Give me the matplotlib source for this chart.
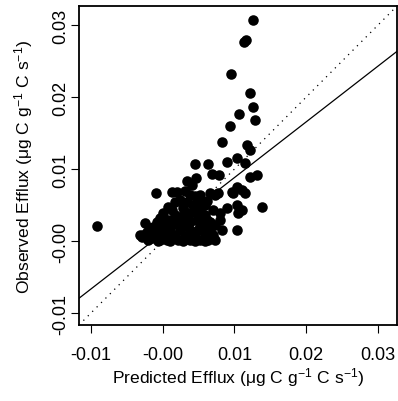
import numpy as np
import matplotlib
matplotlib.use("Agg")
import matplotlib.pyplot as plt

plt.rcParams['font.family'] = ['Liberation Sans', 'DejaVu Sans']
plt.rcParams['mathtext.fontset'] = 'custom'
plt.rcParams['mathtext.rm'] = 'Liberation Sans'
plt.rcParams['mathtext.default'] = 'regular'
plt.rcParams['axes.unicode_minus'] = False

# predicted vs observed efflux
predicted = [
    0.01259, 0.01134, 0.01161, 0.00953, 0.01217, 0.01259, 0.01064, 0.01287,
    0.00939, 0.00828, 0.01175, 0.01217, 0.00452, 0.00633, 0.00897, 0.01036,
    0.01147, 0.00688, 0.00786, 0.00341, 0.00466, 0.01314, 0.01217, 0.00202,
    0.00313, -0.00090, 0.00132, 0.01036, 0.00967, 0.00772, 0.00661, 0.01106,
    0.01147, 0.00174, 0.00341, 0.00494, 0.00619, 0.00897, 0.01036, 0.01106,
    0.01384, 0.00007, 0.00243, 0.00382, 0.00522, 0.00800, 0.01050, -0.00243,
    -0.00076, 0.00076, 0.00202, 0.00341, 0.00480, 0.00619, 0.00800, -0.00911,
    0.00828, 0.01036, -0.00285, -0.00146, 0.00063, 0.00216, 0.00382, 0.00522,
    0.00633, 0.00661, -0.00035, 0.00104, 0.00243, 0.00382, 0.00494, -0.00216,
    -0.00132, -0.00271, 0.00410, 0.00452, 0.00563, 0.00313, 0.00174, 0.00452,
    0.00313, 0.00035, 0.00730, 0.00980, -0.00313, 0.00522, 0.00591, 0.00285,
    0.00424, 0.00132, -0.00035, -0.00174, 0.00702, 0.00730, -0.00063, 0.00104,
    0.00452, -0.00174, -0.00063, 0.00035, 0.00132, 0.00243, 0.00382, 0.00522,
    0.00661, 0.00702, 0.00591, 0.00452, 0.00313, 0.00174, 0.00076, 0.00243,
    0.00382, 0.00522, 0.00591, 0.00730, -0.00035, -0.00202, 0.00285, 0.00591,
]
observed = [
    0.03069, 0.02764, 0.02792, 0.02319, 0.02056, 0.01861, 0.01764, 0.01681,
    0.01597, 0.01375, 0.01333, 0.01264, 0.01069, 0.01069, 0.01097, 0.01153,
    0.01083, 0.00931, 0.00917, 0.00833, 0.00875, 0.00917, 0.00889, 0.00681,
    0.00694, 0.00667, 0.00681, 0.00750, 0.00681, 0.00667, 0.00667, 0.00708,
    0.00667, 0.00542, 0.00542, 0.00542, 0.00556, 0.00458, 0.00500, 0.00431,
    0.00472, 0.00389, 0.00333, 0.00389, 0.00431, 0.00389, 0.00389, 0.00250,
    0.00264, 0.00292, 0.00264, 0.00292, 0.00292, 0.00292, 0.00292, 0.00208,
    0.00153, 0.00153, 0.00056, 0.00042, 0.00014, 0.00014, 0.00014, 0.00014,
    0.00014, 0.00153, 0.00153, 0.00125, 0.00153, 0.00153, 0.00153, 0.00125,
    0.00194, 0.00083, 0.00778, 0.00625, 0.00208, 0.00208, 0.00083, 0.00083,
    0.00069, 0.00222, 0.00639, 0.00667, 0.00083, 0.00222, 0.00361, 0.00458,
    0.00500, 0.00431, 0.00319, 0.00111, 0.00083, 0.00222, 0.00000, 0.00000,
    0.00000, 0.00181, 0.00083, 0.00125, 0.00222, 0.00236, 0.00264, 0.00319,
    0.00264, 0.00431, 0.00500, 0.00403, 0.00403, 0.00361, 0.00472, 0.00569,
    0.00639, 0.00639, 0.00111, 0.00014, 0.00014, 0.00014, 0.00000, 0.00000,
]

# fitted line (intercept, slope)
fit_a = 0.00108
fit_b = 0.774

ticks = [-0.01, 0.0, 0.01, 0.02, 0.03]
tick_labels = ['-0.01', '-0.00', '0.01', '0.02', '0.03']
lims = (-0.01164, 0.03264)

fig = plt.figure(figsize=(3.98, 4.02), dpi=100)
ax = fig.add_axes([79 / 398, 1 - 326 / 402, 318 / 398, 319 / 402])

ax.plot(predicted, observed, 'o', color='black', markersize=7.6,
        markeredgewidth=0, zorder=3)

xx = np.array(lims)
ax.plot(xx, xx, color='black', linestyle=(0, (1, 4)), linewidth=0.9)
ax.plot(xx, fit_a + fit_b * xx, color='black', linewidth=0.9)

ax.set_xlim(lims)
ax.set_ylim(lims)
ax.set_xticks(ticks)
ax.set_xticklabels(tick_labels)
ax.set_yticks(ticks)
ax.set_yticklabels(tick_labels, rotation=90, va='center')
ax.tick_params(direction='out', length=5.5, width=0.8, labelsize=13,
               colors='black')
ax.tick_params(axis='x', pad=9.4)
ax.tick_params(axis='y', pad=1.5)
for s in ax.spines.values():
    s.set_linewidth(1.3)

ax.set_xlabel(r'Predicted Efflux (μg C g$^{-1}$ C s$^{-1}$)', fontsize=12.6)
ax.xaxis.label.set_va('baseline')
ax.xaxis.set_label_coords(0.5, -0.179)
ax.set_ylabel(r'Observed Efflux (μg C g$^{-1}$ C s$^{-1}$)', fontsize=12.6)
ax.yaxis.label.set_va('baseline')
ax.yaxis.set_label_coords(-0.155, 0.5)

fig.savefig('out.png', dpi=100)
